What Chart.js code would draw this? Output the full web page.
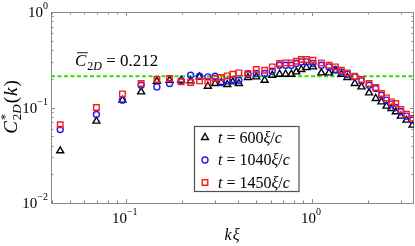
<!DOCTYPE html>
<html>
<head>
<meta charset="utf-8">
<script src="https://cdn.jsdelivr.net/npm/chart.js@4.4.0/dist/chart.umd.min.js"></script>
<style>
html, body { margin: 0; padding: 0; background: #fff; }
canvas { display: block; }
</style>
</head>
<body>
<canvas id="chart" width="415" height="246"></canvas>
<script>
// k*xi values (bin centres)
const kValues = [0.0445, 0.0696, 0.0960, 0.121, 0.147, 0.172, 0.1985, 0.223, 0.249, 0.276,
    0.302, 0.326, 0.351, 0.376, 0.405, 0.453, 0.502, 0.557, 0.612, 0.670,
    0.722, 0.775, 0.824, 0.877, 0.933, 1.012, 1.123, 1.234, 1.336, 1.439,
    1.550, 1.697, 1.844, 2.026, 2.200, 2.361, 2.512, 2.672, 2.818, 2.999,
    3.218, 3.466];

const c600 = [0.0352, 0.0720, 0.1194, 0.1458, 0.1886, 0.1932, 0.1932, 0.1900, 0.2091, 0.1672,
    0.1784, 0.1828, 0.1742, 0.1854, 0.1784, 0.2062, 0.2091, 0.1932, 0.2179, 0.2232,
    0.2232, 0.2232, 0.2359, 0.2499, 0.2623, 0.2661, 0.2303, 0.2303, 0.2417, 0.2232,
    0.2062, 0.1784, 0.1644, 0.1423, 0.1243, 0.1146, 0.1033, 0.0977, 0.0901, 0.0812,
    0.0737, 0.0654];

const c1040 = [0.0589, 0.0846, 0.1194, 0.1713, 0.1644, 0.1784, 0.1909, 0.2179, 0.2127, 0.2091,
    0.2127, 0.1828, 0.1900, 0.1965, 0.1932, 0.2216, 0.2270, 0.2270, 0.2399, 0.2772,
    0.2772, 0.2772, 0.2888, 0.3001, 0.3001, 0.2888, 0.2772, 0.2661, 0.2499, 0.2359,
    0.2232, 0.2091, 0.1900, 0.1713, 0.1582, 0.1346, 0.1194, 0.1084, 0.1001, 0.0901,
    0.0812, 0.0737];

const c1450 = [0.0659, 0.1001, 0.1389, 0.1784, 0.1965, 0.2012, 0.1863, 0.1828, 0.1900, 0.1886,
    0.2027, 0.2062, 0.2142, 0.2232, 0.2303, 0.2270, 0.2499, 0.2458, 0.2661, 0.2888,
    0.2930, 0.2930, 0.3052, 0.3180, 0.3180, 0.3126, 0.2930, 0.2772, 0.2661, 0.2458,
    0.2303, 0.2127, 0.1965, 0.1784, 0.1620, 0.1402, 0.1262, 0.1146, 0.1102, 0.0954,
    0.0852, 0.0768];

const cBar = 0.212;
const xRange = [0.0397, 3.53];
const yRange = [0.01, 1];
const xTicks = [0.1, 1];
const xTickExp = ['\u22121', '0'];
const yTicks = [1, 0.1, 0.01];
const yTickExp = ['0', '\u22121', '\u22122'];
const seriesNames = ['600', '1040', '1450'];

const SERIF = '"Liberation Serif", "DejaVu Serif", serif';
const AXIS_COLOR = '#8a8a8a';

function fnt(size, italic) {
    return (italic ? 'italic ' : '') + size + 'px ' + SERIF;
}

// draws a run of text pieces: {t, s, i, dy, keep, bar, gap}
function drawRun(ctx, parts, x, y, align) {
    let total = 0;
    parts.forEach(p => {
        ctx.font = fnt(p.s, p.i);
        p.w = ctx.measureText(p.t).width + (p.gap || 0);
        if (!p.keep) total += p.w;
    });
    let cx = x;
    if (align === 'center') cx = x - total / 2;
    if (align === 'right') cx = x - total;
    ctx.textBaseline = 'alphabetic';
    ctx.textAlign = 'left';
    parts.forEach(p => {
        ctx.font = fnt(p.s, p.i);
        ctx.fillText(p.t, cx, y + (p.dy || 0));
        if (p.bar) {
            ctx.save();
            ctx.lineWidth = 0.9;
            ctx.strokeStyle = ctx.fillStyle;
            ctx.beginPath();
            ctx.moveTo(cx + 2, y - p.s * 0.78);
            ctx.lineTo(cx + p.w + 0.5, y - p.s * 0.78);
            ctx.stroke();
            ctx.restore();
        }
        if (!p.keep) cx += p.w;
    });
}

function logMinors(lo, hi) {
    const out = [];
    for (let e = Math.floor(Math.log10(lo)); e <= Math.ceil(Math.log10(hi)); e++) {
        for (let m = 1; m < 10; m++) {
            const v = m * Math.pow(10, e);
            if (v >= lo * 0.999 && v <= hi * 1.001) out.push({ v: v, major: m === 1 });
        }
    }
    return out;
}

const decor = {
    id: 'decor',
    beforeDatasetsDraw(chart) {
        const ctx = chart.ctx;
        const a = chart.chartArea;
        const xs = chart.scales.x, ys = chart.scales.y;
        ctx.save();
        ctx.strokeStyle = AXIS_COLOR;
        ctx.lineWidth = 1;
        ctx.strokeRect(Math.round(a.left) + 0.5, Math.round(a.top) + 0.5,
            Math.round(a.right - a.left) - 1, Math.round(a.bottom - a.top));
        ctx.beginPath();
        logMinors(xRange[0], xRange[1]).forEach(t => {
            const px = Math.round(xs.getPixelForValue(t.v)) + 0.5;
            const len = t.major ? 4 : 2.5;
            ctx.moveTo(px, a.bottom); ctx.lineTo(px, a.bottom - len);
            ctx.moveTo(px, a.top); ctx.lineTo(px, a.top + len);
        });
        logMinors(yRange[0], yRange[1]).forEach(t => {
            const py = Math.round(ys.getPixelForValue(t.v)) + 0.5;
            const len = t.major ? 4 : 2.5;
            ctx.moveTo(a.left, py); ctx.lineTo(a.left + len, py);
            ctx.moveTo(a.right, py); ctx.lineTo(a.right - len, py);
        });
        ctx.stroke();
        ctx.restore();
    },
    afterDatasetsDraw(chart) {
        const ctx = chart.ctx;
        const xs = chart.scales.x, ys = chart.scales.y;
        ctx.save();
        ctx.fillStyle = '#000';

        // tick labels
        xTicks.forEach((v, i) => {
            const px = xs.getPixelForValue(v);
            drawRun(ctx, [{ t: '10', s: 15 }, { t: xTickExp[i], s: 10, dy: -8 }], px - 1, 223, 'center');
        });
        yTicks.forEach((v, i) => {
            const py = ys.getPixelForValue(v);
            drawRun(ctx, [{ t: '10', s: 15 }, { t: yTickExp[i], s: 10, dy: -8 }], 48, py + 5, 'right');
        });

        // axis titles
        drawRun(ctx, [{ t: 'k', s: 16, i: true, gap: 1 }, { t: '\u03be', s: 16, i: true }], 232, 240, 'center');
        ctx.save();
        ctx.translate(17, 107);
        ctx.rotate(-Math.PI / 2);
        drawRun(ctx, [
            { t: 'C', s: 19, i: true, gap: 1 },
            { t: '*', s: 13, dy: -8, keep: true },
            { t: '2', s: 13, dy: 4 },
            { t: 'D', s: 13, i: true, dy: 4, gap: 1 },
            { t: '(', s: 19, gap: 1 },
            { t: 'k', s: 19, i: true, gap: 1 },
            { t: ')', s: 19 }
        ], 0, 0, 'center');
        ctx.restore();

        // mean value annotation
        drawRun(ctx, [
            { t: 'C', s: 17, i: true, bar: true, gap: 1 },
            { t: '2', s: 12, dy: 4 },
            { t: 'D', s: 12, i: true, dy: 4 },
            { t: ' = 0.212', s: 17 }
        ], 75, 66, 'left');

        // legend box
        const box = { l: 194.5, t: 126.5, r: 299, b: 191.5 };
        ctx.fillStyle = '#fff';
        ctx.fillRect(box.l, box.t, box.r - box.l, box.b - box.t);
        ctx.strokeStyle = '#505050';
        ctx.lineWidth = 1.2;
        ctx.strokeRect(box.l, box.t, box.r - box.l, box.b - box.t);
        const rowY = [137.5, 160, 182.5];
        chart.data.datasets.slice(0, 3).forEach((ds, i) => {
            ctx.save();
            ctx.lineWidth = ds.borderWidth;
            ctx.strokeStyle = ds.borderColor;
            ctx.fillStyle = 'rgba(0,0,0,0)';
            Chart.helpers.drawPoint(ctx, {
                pointStyle: ds.pointStyle, radius: ds.pointRadius, borderWidth: ds.borderWidth, rotation: 0
            }, 205, rowY[i]);
            ctx.restore();
            ctx.fillStyle = '#000';
            drawRun(ctx, [
                { t: 't', s: 16, i: true },
                { t: ' = ' + ds.tag, s: 16 },
                { t: '\u03be', s: 16, i: true },
                { t: '/', s: 16 },
                { t: 'c', s: 16, i: true }
            ], 218, rowY[i] + 5, 'left');
        });
        ctx.restore();
    }
};

function points(values) {
    return kValues.map((k, i) => ({ x: k, y: values[i] }));
}

new Chart(document.getElementById('chart'), {
    type: 'scatter',
    data: {
        datasets: [
            {
                tag: seriesNames[0],
                data: points(c600),
                pointStyle: 'triangle',
                pointRadius: 4,
                borderColor: '#000',
                backgroundColor: 'rgba(0,0,0,0)',
                borderWidth: 1.4,
                order: 3
            },
            {
                tag: seriesNames[1],
                data: points(c1040),
                pointStyle: 'circle',
                pointRadius: 3,
                borderColor: '#1a1aff',
                backgroundColor: 'rgba(0,0,0,0)',
                borderWidth: 1.4,
                order: 2
            },
            {
                tag: seriesNames[2],
                data: points(c1450),
                pointStyle: 'rect',
                pointRadius: 3.9,
                borderColor: '#ff1a1a',
                backgroundColor: 'rgba(0,0,0,0)',
                borderWidth: 1.4,
                order: 1
            },
            {
                type: 'line',
                data: [{ x: xRange[0], y: cBar }, { x: xRange[1], y: cBar }],
                borderColor: '#33dd00',
                borderWidth: 2,
                borderDash: [4, 2.5],
                pointRadius: 0,
                order: 4
            }
        ]
    },
    options: {
        responsive: false,
        animation: false,
        events: [],
        layout: { autoPadding: false, padding: { left: 51, top: 12, right: 1, bottom: 43 } },
        plugins: { legend: { display: false }, tooltip: { enabled: false } },
        scales: {
            x: { type: 'logarithmic', min: xRange[0], max: xRange[1], display: false },
            y: { type: 'logarithmic', min: yRange[0], max: yRange[1], display: false }
        }
    },
    plugins: [decor]
});
</script>
</body>
</html>
